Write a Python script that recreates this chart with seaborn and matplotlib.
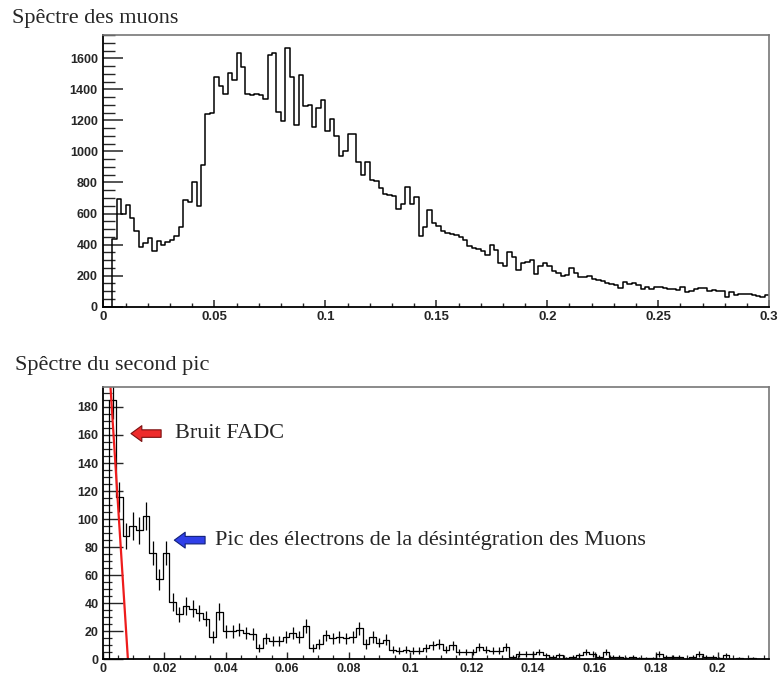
import numpy as np
import pandas as pd
import matplotlib
matplotlib.use("Agg")
import matplotlib.pyplot as plt
from matplotlib.ticker import MultipleLocator
import seaborn as sns

# --- data ---

# top: muon spectrum, 150 bins of 0.002 over [0, 0.3]
muon_bin_width = 0.002
muon_counts = [
    0, 0, 436, 694, 596, 656, 574, 488, 383, 409,
    445, 361, 426, 398, 415, 430, 454, 512, 690, 673,
    806, 651, 914, 1240, 1247, 1477, 1419, 1370, 1505, 1458,
    1634, 1542, 1370, 1365, 1370, 1365, 1340, 1619, 1634, 1253,
    1193, 1666, 1481, 1170, 1495, 1290, 1300, 1160, 1280, 1330,
    1134, 1207, 1102, 971, 1005, 1113, 1113, 930, 848, 934,
    816, 810, 763, 724, 720, 713, 627, 662, 769, 662,
    709, 455, 516, 623, 537, 520, 488, 477, 466, 462,
    451, 430, 393, 380, 372, 361, 333, 397, 365, 279,
    264, 354, 322, 236, 284, 290, 301, 210, 262, 279,
    264, 232, 219, 200, 202, 247, 215, 189, 189, 198,
    178, 172, 168, 155, 146, 140, 122, 161, 146, 155,
    140, 112, 129, 116, 129, 129, 118, 116, 112, 107,
    129, 97, 103, 112, 118, 118, 103, 107, 103, 101,
    60, 97, 75, 82, 82, 82, 75, 69, 64, 75,
]
muon_xticks = [0, 0.05, 0.1, 0.15, 0.2, 0.25, 0.3]
muon_xlabels = ["0", "0.05", "0.1", "0.15", "0.2", "0.25", "0.3"]
muon_yticks = [0, 200, 400, 600, 800, 1000, 1200, 1400, 1600]

# bottom: second peak spectrum, 100 bins over [0, 0.2168]
pic_bin_width = 0.002168
pic_counts = [
    0, 185, 116, 88, 95, 92, 102, 76, 57, 76,
    41, 32, 38, 36, 33, 29, 16, 34, 20, 20,
    21, 19, 18, 8, 15, 13, 13, 16, 19, 16,
    24, 8, 11, 17, 15, 16, 15, 16, 22, 11,
    16, 12, 14, 7, 6, 7, 6, 6, 8, 10,
    11, 7, 10, 5, 5, 5, 9, 7, 6, 6,
    9, 2, 4, 4, 4, 5, 3, 2, 3, 1,
    2, 3, 5, 4, 2, 5, 2, 2, 1, 2,
    1, 1, 1, 4, 2, 2, 2, 0, 2, 4,
    2, 2, 1, 3, 0, 1, 0, 1, 0, 0,
]
pic_xticks = [0, 0.02, 0.04, 0.06, 0.08, 0.1, 0.12, 0.14, 0.16, 0.18, 0.2]
pic_xlabels = ["0", "0.02", "0.04", "0.06", "0.08", "0.1", "0.12", "0.14", "0.16", "0.18", "0.2"]
pic_yticks = [0, 20, 40, 60, 80, 100, 120, 140, 160, 180]

# red fit line on the noise peak
fit_x = [0.00254, 0.0082]
fit_y = [194, 0]

sns.set_style("ticks")
plt.rcParams["font.family"] = ["Liberation Sans", "DejaVu Sans"]
serif = ["Liberation Serif", "DejaVu Serif"]

fig = plt.figure(figsize=(7.78, 6.77), dpi=100)
ax1 = fig.add_axes([0.1328, 0.547, 0.856, 0.4013])
ax2 = fig.add_axes([0.132, 0.0261, 0.8568, 0.4018])

# top histogram
muon_edges = np.arange(len(muon_counts) + 1) * muon_bin_width
muon_df = pd.DataFrame({"x": (muon_edges[:-1] + muon_edges[1:]) / 2, "n": muon_counts})
sns.histplot(data=muon_df, x="x", weights="n", bins=list(muon_edges), element="step",
             fill=False, color="black", linewidth=1.1, ax=ax1)

# bottom histogram + poisson error bars
pic_edges = np.arange(len(pic_counts) + 1) * pic_bin_width
pic_df = pd.DataFrame({"x": (pic_edges[:-1] + pic_edges[1:]) / 2, "n": pic_counts})
sns.histplot(data=pic_df, x="x", weights="n", bins=list(pic_edges), element="step",
             fill=False, color="black", linewidth=0.9, ax=ax2)
nz = pic_df[pic_df["n"] > 0]
ax2.errorbar(nz["x"], nz["n"], yerr=np.sqrt(nz["n"]), fmt="none",
             ecolor="black", elinewidth=0.9, capsize=0)
ax2.plot(fit_x, fit_y, color="#ee1c1c", linewidth=1.6)

# axes look (ROOT style)
for ax in (ax1, ax2):
    ax.set_xlabel("")
    ax.set_ylabel("")
    for side in ("top", "right"):
        ax.spines[side].set_visible(True)
        ax.spines[side].set_color("#777777")
        ax.spines[side].set_linewidth(1.2)
    for side in ("left", "bottom"):
        ax.spines[side].set_color("black")
        ax.spines[side].set_linewidth(1.3)

ax1.set_xlim(0, 0.3)
ax1.set_ylim(0, 1750)
ax1.set_xticks(muon_xticks)
ax1.set_xticklabels(muon_xlabels, fontweight="bold")
ax1.set_yticks(muon_yticks)
ax1.set_yticklabels([str(v) for v in muon_yticks], fontweight="bold")
ax1.xaxis.set_minor_locator(MultipleLocator(0.01))
ax1.yaxis.set_minor_locator(MultipleLocator(50))
ax1.tick_params(axis="y", which="major", direction="in", length=14.5, width=1.1,
                labelsize=9, pad=4)
ax1.tick_params(axis="y", which="minor", direction="in", length=8.5, width=1.0)
ax1.tick_params(axis="x", which="major", direction="in", length=5, width=1.1,
                labelsize=9.5, pad=3)
ax1.tick_params(axis="x", which="minor", direction="in", length=3, width=1.0)

ax2.set_xlim(0, 0.2168)
ax2.set_ylim(0, 194)
ax2.set_xticks(pic_xticks)
ax2.set_xticklabels(pic_xlabels, fontweight="bold")
ax2.set_yticks(pic_yticks)
ax2.set_yticklabels([str(v) for v in pic_yticks], fontweight="bold")
ax2.xaxis.set_minor_locator(MultipleLocator(0.005))
ax2.yaxis.set_minor_locator(MultipleLocator(5))
ax2.tick_params(axis="y", which="major", direction="in", length=14.5, width=1.0,
                labelsize=9, pad=3)
ax2.tick_params(axis="y", which="minor", direction="in", length=6.5, width=0.9)
ax2.tick_params(axis="x", which="major", direction="in", length=5, width=1.0,
                labelsize=9, pad=2.5)
ax2.tick_params(axis="x", which="minor", direction="in", length=3, width=0.9)

# annotations
arrow = "simple,head_length=0.65,head_width=0.95,tail_width=0.45"
ax2.annotate("", xy=(0.0092, 161), xytext=(0.019, 161),
             arrowprops=dict(arrowstyle=arrow, mutation_scale=12, fc="#ee2b2b",
                             ec="#7a1010", lw=0.8, shrinkA=0, shrinkB=0))
ax2.text(0.0235, 161, "Bruit FADC", family=serif, fontsize=16, va="center", ha="left")
ax2.annotate("", xy=(0.0233, 85), xytext=(0.0333, 85),
             arrowprops=dict(arrowstyle=arrow, mutation_scale=12, fc="#2f3fe8",
                             ec="#10207a", lw=0.8, shrinkA=0, shrinkB=0))
ax2.text(0.0365, 85, "Pic des électrons de la désintégration des Muons",
         family=serif, fontsize=16, va="center", ha="left")

fig.text(12 / 778, 1 - 23.5 / 677, "Spêctre des muons", family=serif, fontsize=16,
         va="baseline", ha="left")
fig.text(15 / 778, 1 - 370 / 677, "Spêctre du second pic", family=serif, fontsize=16,
         va="baseline", ha="left")

fig.savefig("out.png", dpi=100)
